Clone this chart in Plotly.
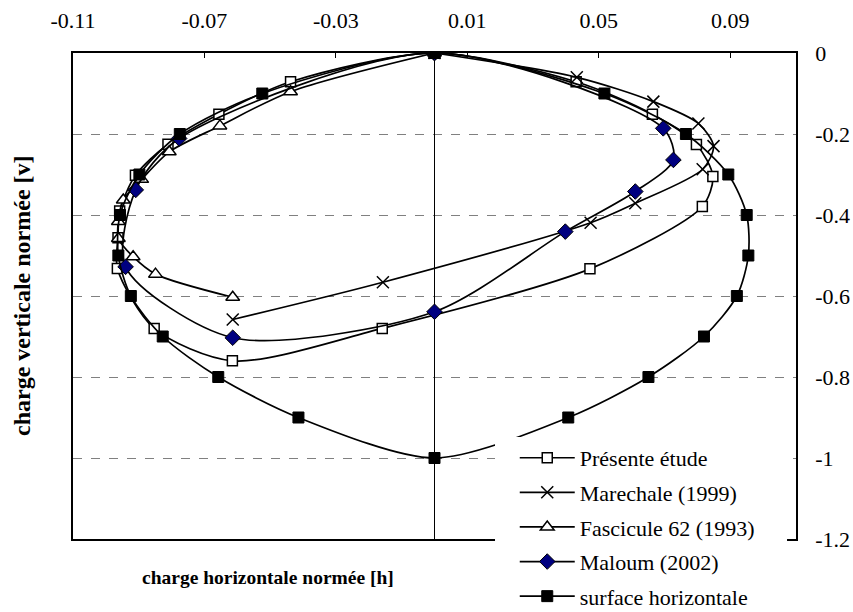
import plotly.graph_objects as go

# ---- data (h = charge horizontale normée, v = charge verticale normée) ----
presente_h = [0, 0.0431, 0.0663, 0.0797, 0.0847, 0.0815, 0.0473, -0.0159, -0.0615, -0.0853,
              -0.0965, -0.0963, -0.0958, -0.0910, -0.0811, -0.0656, -0.0438, 0]
presente_v = [0, -0.071, -0.151, -0.226, -0.305, -0.379, -0.533, -0.680, -0.760, -0.680,
              -0.532, -0.456, -0.390, -0.302, -0.225, -0.151, -0.071, 0]

marechale_h = [0, 0.0433, 0.0666, 0.0803, 0.0849, 0.0816, 0.0611, 0.0475, -0.0157, -0.0614]
marechale_v = [0, -0.060, -0.120, -0.174, -0.230, -0.287, -0.371, -0.419, -0.566, -0.658]

fascicule_h = [0, -0.0438, -0.0653, -0.0807, -0.0891, -0.0947, -0.0962, -0.0962, -0.0917, -0.0849, -0.0614]
fascicule_v = [0, -0.0955, -0.180, -0.244, -0.312, -0.363, -0.416, -0.458, -0.503, -0.546, -0.603]

maloum_h = [0, 0.0696, 0.0727, 0.0611, 0.0398, 0, -0.0614, -0.0940, -0.0909, -0.0777, 0]
maloum_v = [0, -0.186, -0.264, -0.342, -0.441, -0.639, -0.703, -0.528, -0.338, -0.211, 0]

surface_h = [0, 0.0517, 0.0765, 0.0894, 0.0950, 0.0955, 0.0920, 0.0820, 0.0651, 0.0407, 0,
             -0.0414, -0.0658, -0.0827, -0.0924, -0.0962, -0.0957, -0.0898, -0.0775, -0.0524, 0]
surface_v = [0, -0.1, -0.2, -0.3, -0.4, -0.5, -0.6, -0.7, -0.8, -0.9, -1.0,
             -0.9, -0.8, -0.7, -0.6, -0.5, -0.4, -0.3, -0.2, -0.1, 0]

x_ticks = [-0.11, -0.07, -0.03, 0.01, 0.05, 0.09]
x_ticktext = ["-0.11", "-0.07", "-0.03", "0.01", "0.05", "0.09"]
y_ticks = [0, -0.2, -0.4, -0.6, -0.8, -1.0, -1.2]
y_ticktext = ["0", "-0.2", "-0.4", "-0.6", "-0.8", "-1", "-1.2"]

FONT = "Liberation Serif"

series = [
    ("Présente étude", presente_h, presente_v,
     dict(symbol="square", size=10, color="white", line=dict(color="black", width=1.5))),
    ("Marechale (1999)", marechale_h, marechale_v,
     dict(symbol="x-thin-open", size=12, color="black", line=dict(color="black", width=1.5))),
    ("Fascicule 62 (1993)", fascicule_h, fascicule_v,
     dict(symbol="triangle-up", size=12, color="white", line=dict(color="black", width=1.5))),
    ("Maloum (2002)", maloum_h, maloum_v,
     dict(symbol="diamond", size=12, color="#000080", line=dict(color="black", width=1))),
    ("surface horizontale", surface_h, surface_v,
     dict(symbol="square", size=11, color="black", line=dict(color="black", width=1))),
]

fig = go.Figure()
for i, (name, h, v, mk) in enumerate(series):
    fig.add_trace(go.Scatter(
        x=h, y=v, name=name, mode="lines+markers",
        line=dict(color="black", width=1.7, shape="spline", smoothing=0.8),
        marker=mk, legendgroup=f"g{i}",
    ))

fig.update_layout(
    width=853, height=612,
    margin=dict(l=73, r=57, t=53, b=73, autoexpand=False),
    paper_bgcolor="white", plot_bgcolor="white",
    font=dict(family=FONT, size=22, color="black"),
    showlegend=True,
    legend=dict(x=0.611, y=0.21, xanchor="left", yanchor="top",
                bgcolor="rgba(0,0,0,0)", borderwidth=0, itemwidth=55,
                font=dict(family=FONT, size=22, color="black"),
                tracegroupgap=3),
    xaxis=dict(range=[-0.11, 0.11], side="top", tickvals=x_ticks, ticktext=x_ticktext,
               ticks="inside", ticklen=5, tickcolor="black", tickwidth=1,
               showline=True, mirror=True, linecolor="black", linewidth=1.5,
               showgrid=False, zeroline=True, zerolinecolor="black", zerolinewidth=1,
               ticklabelstandoff=14, automargin=False, fixedrange=True),
    yaxis=dict(range=[-1.2, 0], side="right", tickvals=y_ticks, ticktext=y_ticktext,
               ticks="", ticklen=0, showline=True, mirror=True, linecolor="black", linewidth=1.5,
               showgrid=True, gridcolor="#808080", griddash="dash", gridwidth=1,
               zeroline=False, ticklabelstandoff=13, automargin=False, fixedrange=True),
    shapes=[dict(type="rect", xref="paper", yref="paper",
                 x0=0.5837, x1=0.9876, y0=-0.16, y1=0.21,
                 fillcolor="white", line=dict(width=0), layer="above")],
    annotations=[
        dict(text="<b>charge horizontale normée [h]</b>", xref="paper", yref="paper",
             x=(268 - 73) / 723, y=(539 - 577) / 486, xanchor="center", yanchor="middle",
             showarrow=False, font=dict(family=FONT, size=19.5, color="black")),
        dict(text="<b>charge verticale normée [v]</b>", xref="paper", yref="paper",
             x=(22 - 73) / 723, y=0.5, xanchor="center", yanchor="middle", textangle=-90,
             showarrow=False, font=dict(family=FONT, size=24, color="black")),
    ],
)

fig.write_html("out.html", config={"displayModeBar": False},
               post_script="document.body.style.margin='0';")
